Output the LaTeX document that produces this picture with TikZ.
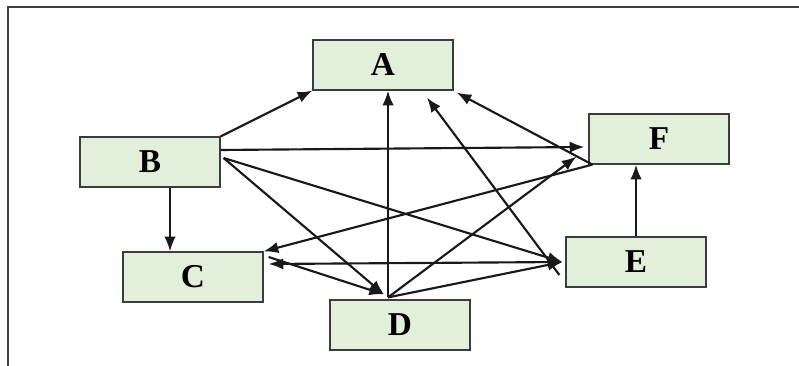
\documentclass[tikz,border=0pt]{standalone}
\usepackage{fontspec}
\setmainfont{Liberation Serif}
\usepackage{xcolor}
\usepackage{tikz}
\usetikzlibrary{calc}
\usetikzlibrary{arrows.meta}
\usetikzlibrary{positioning}
\definecolor{boxgreen}{RGB}{226, 239, 218}
\definecolor{boxline}{RGB}{60, 60, 60}
\tikzset{>={Latex[length = 11pt, width = 8.5pt]}}
\tikzstyle{factor} = [draw = boxline, fill = boxgreen, line width = 0.9pt, minimum width = 105pt, minimum height = 37.5pt, inner sep = 1, font = \fontsize{25}{28}\selectfont\bfseries]
\tikzstyle{link} = [->, line width = 1.6pt, draw = black!90]
\tikzstyle{frame} = [draw = black!75, line width = 1.2pt]

\begin{document}
\begin{tikzpicture}[x = 0.75pt, y = -0.75pt]
\useasboundingbox (0, 0) rectangle (799, 366);
\draw [frame] (799, 7) -- (8, 7) -- (8, 366);
% boxes
\node [factor]  (A) at (383, 65) {A};
\node [factor]  (B) at (150, 162) {B};
\node [factor]  (F) at (659, 139) {F};
\node [factor]  (C) at (193, 277) {C};
\node [factor]  (E) at (636, 262) {E};
\node [factor]  (D) at (400, 325) {D};
\coordinate (BC) at ($(B.south) + (20, 0)$);
% links
\draw [link] (B.north east) to (A.south west);
\draw [link] ($(B.east) + (0, -12)$) to ($(F.west) + (-4, 8)$);
\draw [link] (BC) to (BC |- C.north);
\draw [link] ($(B.east) + (3, -4)$) to ($(D.north) + (-16, -5)$);
\draw [link] ($(B.east) + (3, -4)$) to ($(E.west) + (-3, 0)$);
\draw [link] ($(F.south west) + (4, 0)$) to ($(A.south east) + (3, 2)$);
\draw [link] ($(E.west) + (-6, 13)$) to ($(A.south) + (44, 7)$);
\draw [link] ($(D.north) + (-12, -2)$) to ($(A.south) + (5, 0)$);
\draw [link] ($(D.north) + (-12, -2)$) to ($(F.south west) + (-12, -8)$);
\draw [link] ($(D.north) + (-12, -2)$) to ($(E.west) + (-3, 0)$);
\draw [link] ($(F.south west) + (4, 0)$) to (C.north east);
\draw [link, <->] ($(C.east) + (5, -13)$) to ($(E.west) + (-3, 0)$);
\draw [link] ($(C.east) + (5, -20)$) to ($(D.north) + (-16, -5)$);
\draw [link] (E.north) to (E.north |- F.south);
\end{tikzpicture}
\end{document}
